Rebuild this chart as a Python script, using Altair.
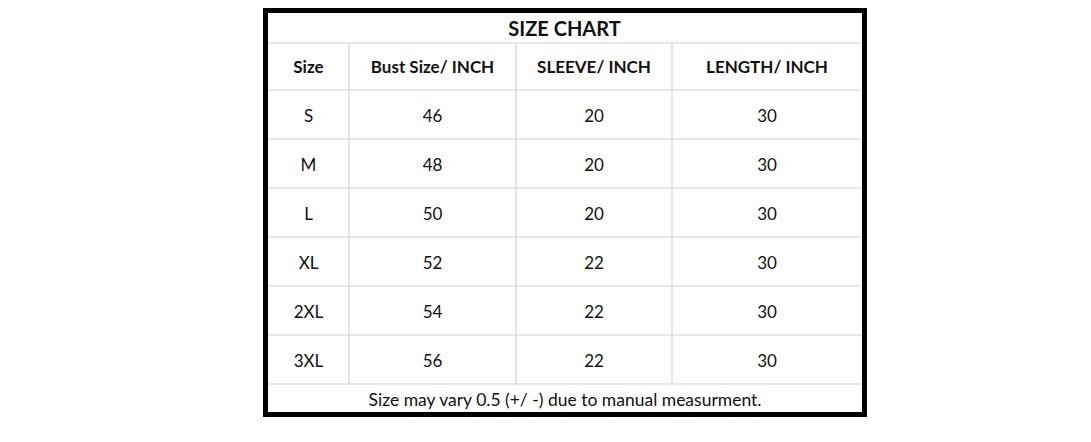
import altair as alt
import pandas as pd

# ---- table content ----
title = "SIZE CHART"
headers = ["Size", "Bust Size/ INCH", "SLEEVE/ INCH", "LENGTH/ INCH"]
sizes = ["S", "M", "L", "XL", "2XL", "3XL"]
bust = [46, 48, 50, 52, 54, 56]
sleeve = [20, 20, 20, 22, 22, 22]
length = [30, 30, 30, 30, 30, 30]
note = "Size may vary 0.5 (+/ -) due to manual measurment."

# ---- layout (page pixels) ----
W, H = 1075, 426
OX, OY = 8, 8
col_edges = [268, 349, 516, 672, 862]
title_top, title_bot = 7, 43
header_bot = 90
row_h = 49
n_rows = len(sizes)
row_edges = [title_bot, header_bot] + [header_bot + row_h * (i + 1) for i in range(n_rows)]
table_bottom = 412
FONT = "Lato"

xs = alt.Scale(domain=[OX, OX + W], nice=False, zero=False)
ys = alt.Scale(domain=[OY, OY + H], nice=False, zero=False, reverse=True)

def col_center(c):
    return (col_edges[c] + col_edges[c + 1]) / 2

# cells
body_rows = []
columns = [sizes, bust, sleeve, length]
for r in range(n_rows):
    yc = row_edges[r + 1] + row_h / 2 + 2.5
    for c, col in enumerate(columns):
        body_rows.append({"x": col_center(c), "y": yc, "t": str(col[r])})
body_df = pd.DataFrame(body_rows)

header_df = pd.DataFrame([
    {"x": col_center(c), "y": (title_bot + header_bot) / 2 + 1, "t": h}
    for c, h in enumerate(headers)
])
title_df = pd.DataFrame([{"x": (col_edges[0] + col_edges[-1]) / 2 - 0.5,
                          "y": (title_top + title_bot) / 2 + 4.5, "t": title}])
note_df = pd.DataFrame([{"x": (col_edges[0] + col_edges[-1]) / 2,
                         "y": (row_edges[-1] + table_bottom) / 2 + 2.5, "t": note}])

# grid lines
hl = pd.DataFrame([{"x": col_edges[0], "x2": col_edges[-1], "y": y, "y2": y} for y in row_edges])
vl = pd.DataFrame([{"x": x, "x2": x, "y": row_edges[0], "y2": row_edges[-1]} for x in col_edges[1:-1]])
grid_df = pd.concat([hl, vl], ignore_index=True)

# outer frame as four filled bars (top clamped to the page's drawable area)
bw = 5
top_edge = max(title_top - bw, OY)
frame_df = pd.DataFrame([
    {"x": col_edges[0] - bw, "x2": col_edges[-1] + bw, "y": top_edge, "y2": top_edge + bw},
    {"x": col_edges[0] - bw, "x2": col_edges[-1] + bw, "y": table_bottom, "y2": table_bottom + bw},
    {"x": col_edges[0] - bw, "x2": col_edges[0], "y": top_edge, "y2": table_bottom + bw},
    {"x": col_edges[-1], "x2": col_edges[-1] + bw, "y": top_edge, "y2": table_bottom + bw},
])

def X(f="x"):
    return alt.X(f"{f}:Q", scale=xs, axis=None)
def Y(f="y"):
    return alt.Y(f"{f}:Q", scale=ys, axis=None)

grid = alt.Chart(grid_df).mark_rule(color="#d4d4d4", strokeWidth=1.2).encode(
    x=X(), x2="x2:Q", y=Y(), y2="y2:Q")

frame = alt.Chart(frame_df).mark_rect(color="black").encode(
    x=X(), x2="x2:Q", y=Y(), y2="y2:Q")

def text_layer(df, size, weight="normal"):
    return alt.Chart(df).mark_text(font=FONT, fontSize=size, fontWeight=weight,
                                   align="center", baseline="middle", color="#111111").encode(
        x=X(), y=Y(), text="t:N")

chart = alt.layer(
    grid,
    frame,
    text_layer(title_df, 20, "bold"),
    text_layer(header_df, 17, "bold"),
    text_layer(body_df, 17),
    text_layer(note_df, 17.5),
).properties(width=W, height=H, padding=0, autosize=alt.AutoSizeParams(type="none")
).configure_view(strokeWidth=0)

chart.save("out.html", embed_options={"renderer": "svg", "actions": False})
